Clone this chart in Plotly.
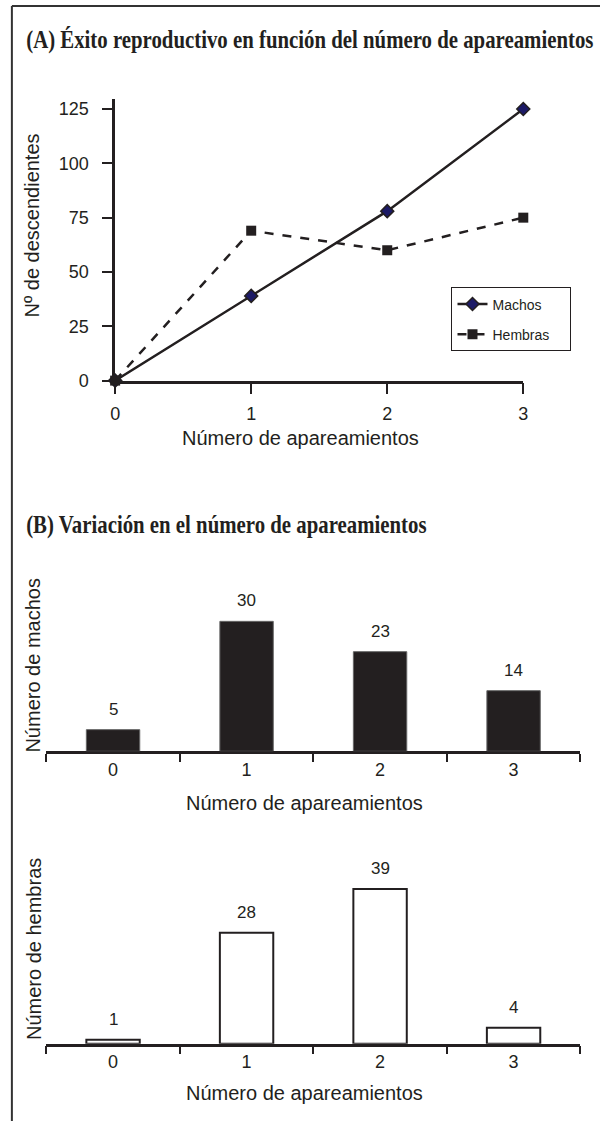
import plotly.graph_objects as go

# ---------------- data ----------------
apareamientos = [0, 1, 2, 3]
descendientes_machos = [0, 39, 78, 125]
descendientes_hembras = [0, 69, 60, 75]
yticks_a = [0, 25, 50, 75, 100, 125]

categorias = ["0", "1", "2", "3"]
num_machos = [5, 30, 23, 14]
num_hembras = [1, 28, 39, 4]

titulo_a = "(A) Éxito reproductivo en función del número de apareamientos"
titulo_b = "(B) Variación en el número de apareamientos"
xlab = "Número de apareamientos"

# ---------------- helpers ----------------
W, H = 605, 1131
def fx(px): return px / W
def fy(py): return 1 - py / H

INK = "#231f20"
SANS = "Liberation Sans, Arial, sans-serif"
SERIF = "Liberation Serif, Times New Roman, serif"
PAD = "\u00a0" * 4

fig = go.Figure()

# Panel A lines
fig.add_trace(go.Scatter(
    x=apareamientos, y=descendientes_machos, name="Machos" + PAD, mode="lines+markers",
    line=dict(color=INK, width=2.5),
    marker=dict(symbol="diamond", size=10, color="#1c1a66", line=dict(color=INK, width=1.5)),
    cliponaxis=False, xaxis="x", yaxis="y", legendgroup="m"))
fig.add_trace(go.Scatter(
    x=apareamientos, y=descendientes_hembras, name="Hembras" + PAD, mode="lines+markers",
    line=dict(color=INK, width=2.5, dash="dash"),
    marker=dict(symbol="square", size=10, color=INK),
    cliponaxis=False, xaxis="x", yaxis="y", legendgroup="h"))

# Panel B bars
fig.add_trace(go.Bar(
    x=categorias, y=num_machos, width=0.40, showlegend=False,
    marker=dict(color=INK, line=dict(color="#666666", width=1)),
    xaxis="x2", yaxis="y2"))
fig.add_trace(go.Bar(
    x=categorias, y=num_hembras, width=0.40, showlegend=False,
    marker=dict(color="white", line=dict(color=INK, width=2)),
    xaxis="x3", yaxis="y3"))

annotations = []
# bar value labels
for c, v in zip(categorias, num_machos):
    annotations.append(dict(x=c, y=v, xref="x2", yref="y2", text=str(v), showarrow=False,
                            yanchor="bottom", yshift=9, font=dict(family=SANS, size=17, color=INK)))
for c, v in zip(categorias, num_hembras):
    annotations.append(dict(x=c, y=v, xref="x3", yref="y3", text=str(v), showarrow=False,
                            yanchor="bottom", yshift=9, font=dict(family=SANS, size=17, color=INK)))

def ann(text, x, y, size, family=SANS, angle=0, xanchor="center"):
    annotations.append(dict(text=text, x=fx(x), y=fy(y), xref="paper", yref="paper",
                            showarrow=False, textangle=angle, xanchor=xanchor, yanchor="middle",
                            font=dict(family=family, size=size, color=INK)))

ann("<b>" + titulo_a + "</b>", 19, 40, 24.5, family=SERIF, xanchor="left")
ann("<b>" + titulo_b + "</b>", 19, 530, 24.5, family=SERIF, xanchor="left")
ann(xlab, 300, 442, 20)
ann("Nº de descendientes", 27, 228, 20, angle=-90)
ann(xlab, 305, 810, 20)
ann("Número de machos", 29, 671, 20, angle=-90)
ann(xlab, 305, 1103, 20)
ann("Número de hembras", 29, 958, 20, angle=-90)

axis_common = dict(showgrid=False, zeroline=False, showline=True, linecolor=INK, linewidth=2.5,
                   ticks="outside", tickcolor=INK, tickwidth=2,
                   tickfont=dict(family=SANS, size=18, color=INK), layer="below traces")

fig.update_layout(
    width=W, height=H, margin=dict(l=0, r=0, t=0, b=0),
    paper_bgcolor="white", plot_bgcolor="white",
    showlegend=True,
    legend=dict(x=fx(454), y=fy(290), xanchor="left", yanchor="top",
                bordercolor=INK, borderwidth=1, bgcolor="white",
                font=dict(family=SANS, size=14, color=INK),
                traceorder="grouped", tracegroupgap=9),
    xaxis=dict(domain=[fx(112), fx(527)], range=[0, 3], tickvals=apareamientos,
               ticklen=11, ticklabelstandoff=4, anchor="y", **axis_common),
    yaxis=dict(domain=[fy(384), fy(100)], range=[0, 125 * 284 / 274], tickvals=yticks_a,
               ticklen=10, ticklabelstandoff=10, anchor="x", **axis_common),
    xaxis2=dict(domain=[fx(42), fx(585)], type="category", range=[-0.5, 3.5],
                tickson="boundaries", ticklen=8, anchor="y2", **axis_common),
    yaxis2=dict(domain=[fy(758), fy(590)], range=[0, (758 - 590) / 4.37], visible=False,
                anchor="x2"),
    xaxis3=dict(domain=[fx(42), fx(585)], type="category", range=[-0.5, 3.5],
                tickson="boundaries", ticklen=8, anchor="y3", **axis_common),
    yaxis3=dict(domain=[fy(1053), fy(860)], range=[0, (1053 - 860) / 4.0], visible=False,
                anchor="x3"),
    annotations=annotations,
    shapes=[
        dict(type="line", xref="paper", yref="paper", x0=fx(7), x1=fx(7), y0=0, y1=fy(6),
             line=dict(color="#333333", width=2)),
        dict(type="line", xref="paper", yref="paper", x0=fx(7), x1=1, y0=fy(6), y1=fy(6),
             line=dict(color="#333333", width=2)),
    ],
)

post = """
document.documentElement.style.margin = '0';
document.documentElement.style.padding = '0';
document.documentElement.style.overflow = 'hidden';
document.body.style.margin = '0';
document.body.style.padding = '0';
document.body.style.overflow = 'hidden';
try {
  var gd = document.getElementById('{plot_id}');
  gd.querySelectorAll('text.annotation-text').forEach(function (t) {
    var s = t.textContent || '';
    if (s.indexOf('(A)') === 0 || s.indexOf('(B)') === 0) {
      var b = t.getBBox();
      var x0 = b.x;
      var prev = t.getAttribute('transform') || '';
      t.setAttribute('transform', prev + ' translate(' + x0 + ',0) scale(0.85,1) translate(' + (-x0) + ',0)');
    }
  });
} catch (e) {}
"""

fig.write_html("out.html", post_script=post, config={"displayModeBar": False})
